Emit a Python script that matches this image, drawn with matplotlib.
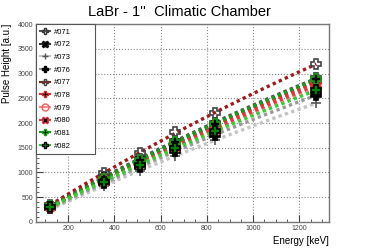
import numpy as np
import matplotlib
matplotlib.use('Agg')
import matplotlib.pyplot as plt
from matplotlib.ticker import MultipleLocator

plt.rcParams["font.family"] = "Liberation Sans"

# energies of the calibration peaks [keV]
energy = [122, 356, 511, 662, 835, 1275]

labels = ['#071', '#072', '#073', '#076', '#077', '#078', '#079', '#080', '#081', '#082']
heights = [
    [330, 900, 1280, 1640, 2010, 2900],   # 071
    [320, 880, 1250, 1600, 1960, 2850],   # 072
    [260, 720, 1040, 1340, 1650, 2400],   # 073
    [280, 780, 1110, 1430, 1760, 2560],   # 076
    [350, 980, 1400, 1810, 2200, 3190],   # 077
    [310, 860, 1230, 1580, 1940, 2820],   # 078
    [300, 820, 1170, 1510, 1850, 2700],   # 079
    [305, 840, 1200, 1550, 1900, 2760],   # 080
    [315, 870, 1260, 1620, 1980, 2880],   # 081
    [300, 810, 1160, 1490, 1830, 2660],   # 082
]

line_cols = ['#555555', '#333333', '#c4c4c4', '#999999', '#9b1b1b',
             '#e03030', '#ff8888', '#d04040', '#1a9a1a', '#33cc33']
markers = ['P', 'X', '+', 'P', 'P', 'P', 'o', 'X', 'P', 'P']
face = ['none', 'black', 'black', 'black', 'none', 'black', 'none', 'black', 'black', 'green']
edge = ['#333333', '#111111', '#555555', 'black', '#444444', '#c03030', '#f06060', '#d03030', '#1a9a1a', 'black']

fig = plt.figure(figsize=(3.66, 2.48), dpi=100)
ax = fig.add_axes([0.098, 0.105, 0.801, 0.798])

xs = np.linspace(122, 1275, 60)
for i in range(len(labels)):
    c = np.polyfit(energy, heights[i], 2)
    ax.plot(xs, np.polyval(c, xs), ls=(0, (1, 1)), lw=2.4, color=line_cols[i], zorder=2)
for i in range(len(labels)):
    ax.plot(energy, heights[i], ls='none', marker=markers[i], ms=7,
            mfc=face[i], mec=edge[i], mew=1.2, color=line_cols[i], zorder=3)

# legend entries (marker + short line)
handles = []
for i in range(len(labels)):
    h, = ax.plot([], [], ls='-', lw=1.5, color=line_cols[i], marker=markers[i], ms=5,
                 mfc=face[i], mec=edge[i], mew=1.0)
    handles.append(h)
leg = ax.legend(handles, labels, loc='upper left', bbox_to_anchor=(0.0, 0.0, 0.2, 1.0),
                mode='expand', fontsize=5.5, handlelength=1.3, handletextpad=0.5,
                labelspacing=0.7, borderpad=0.55, borderaxespad=0,
                fancybox=False, framealpha=1, edgecolor='#555555')
leg.get_frame().set_linewidth(0.8)

ax.set_xlim(60, 1330)
ax.set_ylim(0, 4000)
ax.xaxis.set_major_locator(MultipleLocator(200))
ax.xaxis.set_minor_locator(MultipleLocator(50))
ax.yaxis.set_major_locator(MultipleLocator(500))
ax.yaxis.set_minor_locator(MultipleLocator(100))
ax.tick_params(which='both', direction='in', top=False, right=False,
               labelsize=5, colors='#444444', pad=2)
ax.tick_params(which='major', length=5)
ax.tick_params(which='minor', length=2.5)
ax.grid(True, which='major', ls=':', lw=0.8, color='#888888')
ax.set_axisbelow(True)
for s in ax.spines.values():
    s.set_color('#777777')
    s.set_linewidth(1.0)

ax.set_xlabel('Energy [keV]', fontsize=7, loc='right', labelpad=3)
ax.set_ylabel('Pulse Height [a.u.]', fontsize=7, loc='top')
ax.yaxis.set_label_coords(-0.08, 1.0)
fig.text(0.49, 0.95, 'LaBr - 1\'\'  Climatic Chamber', ha='center', va='center', fontsize=10.5)

fig.savefig('out.png', dpi=100)
